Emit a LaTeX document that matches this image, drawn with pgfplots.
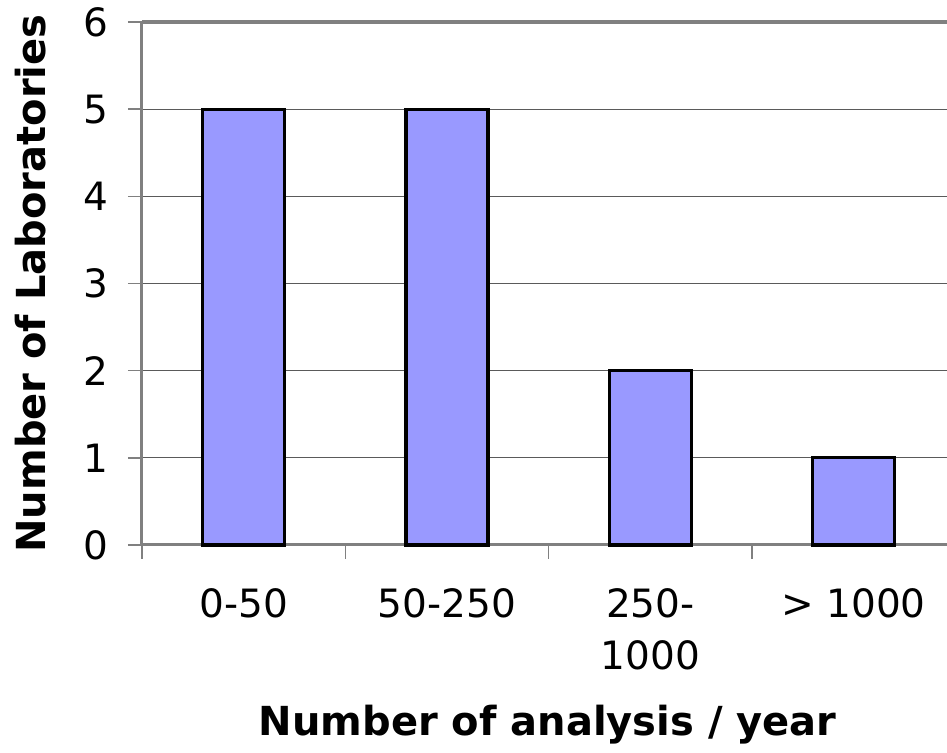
\documentclass[border=0pt]{standalone}
\usepackage{fontspec}
\setmainfont{DejaVu Sans}
\usepackage{pgfplots}
\pgfplotsset{compat=1.18}
\definecolor{barfill}{RGB}{153,153,255}
\definecolor{axgray}{RGB}{128,128,128}
\definecolor{gridgray}{RGB}{90,90,90}
\begin{document}
\begin{tikzpicture}
\begin{axis}[
  at={(0,0)}, anchor=south west,
  scale only axis,
  width=402.5pt, height=261.5pt,
  xmin=-0.5, xmax=3.4596,
  ymin=0, ymax=6,
  axis x line=bottom, axis y line=left,
  axis line style={axgray, line width=1.5pt, -},
  ytick={0,1,2,3,4,5},
  extra y ticks={6},
  extra y tick labels={6},
  extra y tick style={major grid style={axgray, line width=1.6pt}},
  ymajorgrids,
  grid style={gridgray, line width=0.5pt},
  tick align=outside,
  major tick length=7pt,
  tick style={axgray, line width=0.8pt},
  xtick={-0.5,0.5,1.5,2.5},
  xticklabels={},
  extra x ticks={0,1,2,3},
  extra x tick labels={0-50,50-250,250-\\1000,> 1000},
  extra x tick style={major tick length=0pt, grid=none,
     xticklabel style={align=center, anchor=north, yshift=-18pt}},
  ticklabel style={font=\fontsize{19.5}{26}\selectfont, text=black},
  /pgf/number format/assume math mode=true,
  yticklabel style={xshift=-6.5pt},
  xlabel={Number of analysis / year},
  ylabel={Number of Laboratories},
  every axis x label/.style={at={(axis description cs:0.504,-0.344)}, anchor=center,
     font=\bfseries\fontsize{20}{24}\selectfont},
  every axis y label/.style={at={(axis description cs:-0.139,0.5)}, rotate=90, anchor=center,
     font=\bfseries\fontsize{20}{24}\selectfont},
  ybar, bar width=41pt,
  clip=false,
]
\addplot[draw=black, line width=1.6pt, fill=barfill] coordinates {(0,5) (1,5) (2,2) (3,1)};
\end{axis}
\pgfresetboundingbox
\useasboundingbox (-71pt,-104pt) rectangle (402.5pt,272.5pt);
\end{tikzpicture}
\end{document}
